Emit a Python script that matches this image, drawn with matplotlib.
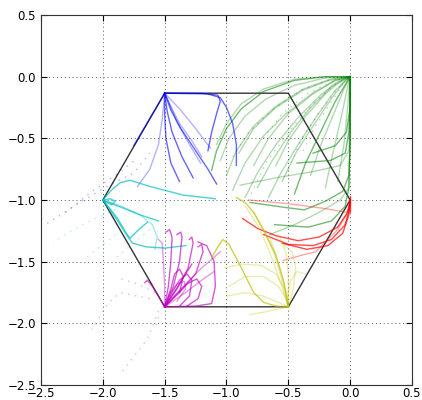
import matplotlib
matplotlib.use('Agg')
import matplotlib.pyplot as plt

# hexagon outline
hex_x = [0.0, -0.5, -1.5, -2.0, -1.5, -0.5, 0.0]
hex_y = [-1.0, -1.866, -1.866, -1.0, -0.134, -0.134, -1.0]

# trajectories (x, y)
green_dark = [
    [(-0.43, -0.70), (-0.16, -0.68), (-0.04, -0.62), (-0.01, -0.45), (0.0, -0.2), (0.0, 0.0)],
    [(-0.81, -1.02), (-0.53, -1.06), (-0.37, -1.08), (-0.2, -1.01), (-0.06, -0.93), (-0.01, -0.8), (0.0, -0.5), (0.0, 0.0)],
    [(-0.61, -1.20), (-0.34, -1.22), (-0.15, -1.17), (-0.04, -1.05), (-0.01, -0.9), (0.0, -0.5), (0.0, 0.0)],
    [(-1.12, -0.76), (-1.08, -0.6), (-1.0, -0.42), (-0.88, -0.26), (-0.7, -0.12), (-0.45, -0.03), (-0.2, 0.0), (0.0, 0.0)],
    [(-0.45, -0.95), (-0.36, -0.7), (-0.24, -0.45), (-0.12, -0.2), (0.0, 0.0)],
    [(-0.3, -0.62), (-0.12, -0.56), (-0.03, -0.45), (0.0, -0.25), (0.0, 0.0)],
]
green_light = [
    [(-1.05, -0.68), (-0.98, -0.5), (-0.85, -0.32), (-0.68, -0.18), (-0.45, -0.07), (-0.2, -0.01), (0.0, 0.0)],
    [(-1.0, -0.8), (-0.92, -0.6), (-0.78, -0.4), (-0.6, -0.24), (-0.38, -0.1), (-0.16, -0.02), (0.0, 0.0)],
    [(-0.95, -0.92), (-0.85, -0.7), (-0.7, -0.48), (-0.52, -0.3), (-0.3, -0.13), (-0.12, -0.03), (0.0, 0.0)],
    [(-0.85, -0.98), (-0.75, -0.78), (-0.6, -0.55), (-0.42, -0.33), (-0.24, -0.15), (-0.1, -0.04), (0.0, 0.0)],
    [(-0.75, -0.9), (-0.63, -0.68), (-0.48, -0.45), (-0.32, -0.25), (-0.15, -0.08), (0.0, 0.0)],
    [(-0.66, -0.98), (-0.56, -0.78), (-0.42, -0.55), (-0.27, -0.32), (-0.12, -0.11), (0.0, 0.0)],
    [(-0.55, -0.85), (-0.44, -0.62), (-0.3, -0.4), (-0.16, -0.19), (-0.05, -0.04), (0.0, 0.0)],
    [(-0.32, -0.8), (-0.24, -0.56), (-0.14, -0.32), (-0.05, -0.1), (0.0, 0.0)],
    [(-0.2, -0.9), (-0.14, -0.62), (-0.07, -0.32), (-0.02, -0.08), (0.0, 0.0)],
    [(-0.9, -0.62), (-0.78, -0.42), (-0.6, -0.25), (-0.38, -0.11), (-0.17, -0.03), (0.0, 0.0)],
    [(-1.08, -0.55), (-1.0, -0.38), (-0.88, -0.22), (-0.7, -0.1), (-0.45, -0.02), (-0.2, 0.0), (0.0, 0.0)],
    [(-0.89, -0.88), (-0.6, -0.82), (-0.3, -0.77), (-0.08, -0.72), (-0.01, -0.6), (0.0, -0.3), (0.0, 0.0)],
    [(-0.65, -1.28), (-0.45, -1.2), (-0.25, -1.1), (-0.08, -1.0), (-0.01, -0.9), (0.0, -0.5), (0.0, 0.0)],
    [(-0.6, -0.72), (-0.5, -0.52), (-0.36, -0.32), (-0.2, -0.14), (-0.07, -0.03), (0.0, 0.0)],
    [(-0.78, -0.72), (-0.66, -0.5), (-0.5, -0.3), (-0.3, -0.14), (-0.12, -0.03), (0.0, 0.0)],
    [(-0.1, -0.85), (-0.05, -0.55), (-0.02, -0.25), (0.0, 0.0)],
]
green_dotted = [
    [(-0.8, -0.95), (-0.68, -0.7), (-0.5, -0.45), (-0.3, -0.22), (-0.12, -0.06), (0.0, 0.0)],
    [(-0.95, -0.65), (-0.82, -0.45), (-0.62, -0.26), (-0.38, -0.1), (-0.15, -0.02), (0.0, 0.0)],
    [(-0.5, -0.75), (-0.4, -0.52), (-0.26, -0.3), (-0.12, -0.12), (0.0, 0.0)],
    [(-0.7, -0.5), (-0.55, -0.3), (-0.35, -0.14), (-0.15, -0.04), (0.0, 0.0)],
    [(-0.38, -0.6), (-0.28, -0.4), (-0.15, -0.2), (-0.05, -0.05), (0.0, 0.0)],
]

red_dark = [
    [(-0.87, -1.15), (-0.75, -1.23), (-0.6, -1.29), (-0.42, -1.33), (-0.25, -1.3), (-0.1, -1.22), (-0.02, -1.1), (0.0, -1.0)],
    [(-0.7, -1.28), (-0.5, -1.36), (-0.3, -1.37), (-0.15, -1.32), (-0.04, -1.2), (0.0, -1.05), (0.0, -1.0)],
    [(-0.55, -1.35), (-0.35, -1.4), (-0.18, -1.37), (-0.06, -1.27), (-0.01, -1.12), (0.0, -1.0)],
    [(0.0, -1.1), (0.0, -0.97)],
]
red_light = [
    [(-0.82, -1.0), (-0.5, -1.03), (-0.2, -1.07), (-0.03, -1.1), (0.0, -1.05), (0.0, -1.0)],
    [(-0.54, -1.49), (-0.4, -1.45), (-0.28, -1.42), (-0.1, -1.24), (-0.02, -1.1), (0.0, -1.0)],
]

blue_dark = [
    [(-1.15, -0.6), (-1.12, -0.45), (-1.08, -0.3), (-1.05, -0.2), (-1.07, -0.15), (-1.2, -0.135), (-1.5, -0.134)],
    [(-0.92, -0.72), (-0.92, -0.55), (-0.95, -0.38), (-1.0, -0.25), (-1.05, -0.17), (-1.15, -0.14), (-1.5, -0.134)],
    [(-1.08, -0.87), (-1.15, -0.75), (-1.25, -0.6), (-1.37, -0.42), (-1.45, -0.27), (-1.5, -0.134)],
    [(-1.38, -0.85), (-1.45, -0.7), (-1.49, -0.5), (-1.5, -0.3), (-1.5, -0.134)],
    [(-1.27, -0.82), (-1.36, -0.65), (-1.44, -0.45), (-1.48, -0.28), (-1.5, -0.134)],
    [(-1.75, -0.56), (-1.65, -0.39), (-1.55, -0.22), (-1.5, -0.134)],
]
blue_light = [
    [(-1.2, -0.65), (-1.28, -0.52), (-1.38, -0.38), (-1.46, -0.22), (-1.5, -0.134)],
    [(-1.72, -0.89), (-1.62, -0.75), (-1.55, -0.55), (-1.52, -0.35), (-1.5, -0.134)],
    [(-1.21, -0.7), (-1.3, -0.55), (-1.4, -0.37), (-1.47, -0.2), (-1.5, -0.134)],
    [(-1.13, -0.58), (-1.25, -0.42), (-1.38, -0.26), (-1.5, -0.134)],
]
blue_dotted = [
    [(-2.45, -1.19), (-2.2, -1.03), (-1.95, -0.88), (-1.75, -0.78), (-1.62, -0.62)],
    [(-2.3, -1.1), (-2.1, -0.94), (-1.9, -0.8), (-1.72, -0.66)],
]

cyan_dark = [
    [(-1.09, -0.99), (-1.35, -0.96), (-1.62, -0.89), (-1.78, -0.84), (-1.86, -0.86), (-1.93, -0.92), (-2.0, -1.0)],
    [(-2.0, -1.0), (-1.94, -0.99), (-1.9, -1.01), (-1.93, -1.04), (-2.0, -1.0)],
    [(-2.0, -1.0), (-1.95, -1.06), (-1.88, -1.15), (-1.81, -1.27), (-1.78, -1.31), (-1.72, -1.25), (-1.64, -1.18)],
    [(-2.0, -1.0), (-1.95, -1.07), (-1.88, -1.17), (-1.81, -1.28), (-1.76, -1.35), (-1.65, -1.38), (-1.5, -1.39), (-1.33, -1.37)],
    [(-2.0, -1.0), (-1.85, -1.06), (-1.7, -1.12), (-1.55, -1.17)],
]
cyan_light = [
    [(-1.58, -1.4), (-1.56, -1.3), (-1.6, -1.2), (-1.7, -1.12), (-1.85, -1.05), (-2.0, -1.0)],
]
cyan_dotted = [
    [(-1.9, -1.08), (-2.08, -1.16), (-2.24, -1.24), (-2.4, -1.34)],
    [(-1.85, -1.25), (-2.05, -1.4), (-2.16, -1.49)],
    [(-1.62, -1.24), (-1.75, -1.35), (-1.92, -1.49)],
]

magenta_dark = [
    [(-1.5, -1.866), (-1.47, -1.7), (-1.45, -1.5), (-1.44, -1.3), (-1.46, -1.24), (-1.49, -1.26)],
    [(-1.5, -1.866), (-1.43, -1.7), (-1.38, -1.5), (-1.36, -1.3), (-1.37, -1.26), (-1.4, -1.28)],
    [(-1.5, -1.866), (-1.4, -1.72), (-1.31, -1.55), (-1.27, -1.35), (-1.28, -1.3), (-1.3, -1.32)],
    [(-1.5, -1.866), (-1.38, -1.75), (-1.25, -1.6), (-1.19, -1.42), (-1.2, -1.36), (-1.23, -1.38)],
    [(-1.23, -1.34), (-1.16, -1.37), (-1.1, -1.5), (-1.09, -1.7), (-1.12, -1.84), (-1.25, -1.86), (-1.5, -1.866)],
    [(-1.5, -1.866), (-1.44, -1.75), (-1.38, -1.65), (-1.32, -1.6), (-1.28, -1.65), (-1.3, -1.78), (-1.38, -1.86)],
    [(-1.5, -1.866), (-1.42, -1.78), (-1.32, -1.68), (-1.24, -1.64), (-1.2, -1.7), (-1.23, -1.8), (-1.32, -1.86)],
    [(-1.5, -1.866), (-1.45, -1.72), (-1.42, -1.6), (-1.38, -1.56), (-1.35, -1.62), (-1.38, -1.75)],
    [(-1.5, -1.866), (-1.55, -1.78), (-1.6, -1.7), (-1.64, -1.65), (-1.66, -1.67)],
    [(-1.5, -1.866), (-1.38, -1.68), (-1.28, -1.52)],
]
magenta_light = [
    [(-1.5, -1.866), (-1.35, -1.7), (-1.2, -1.55), (-1.05, -1.42)],
    [(-1.5, -1.866), (-1.33, -1.75), (-1.2, -1.65), (-1.1, -1.58)],
    [(-1.5, -1.866), (-1.5, -1.7), (-1.51, -1.5), (-1.52, -1.35), (-1.55, -1.32)],
    [(-1.5, -1.866), (-1.46, -1.76), (-1.4, -1.68), (-1.34, -1.66), (-1.33, -1.72), (-1.4, -1.82)],
]
magenta_dotted = [
    [(-1.55, -1.9), (-1.64, -2.13), (-1.72, -2.23), (-1.85, -2.4)],
    [(-1.62, -1.8), (-1.86, -1.75), (-1.96, -1.84), (-2.09, -2.05)],
    [(-1.58, -1.75), (-1.72, -1.68), (-1.85, -1.64)],
    [(-1.55, -1.95), (-1.58, -2.05)],
]

yellow_dark = [
    [(-1.12, -1.47), (-1.07, -1.38), (-1.03, -1.32), (-0.98, -1.36), (-0.88, -1.55), (-0.78, -1.75), (-0.7, -1.83), (-0.6, -1.86), (-0.5, -1.866)],
    [(-0.92, -0.98), (-0.85, -1.02), (-0.78, -1.1), (-0.68, -1.28), (-0.6, -1.45), (-0.54, -1.65), (-0.51, -1.8), (-0.5, -1.866)],
]
yellow_light = [
    [(-0.78, -1.1), (-0.7, -1.25), (-0.62, -1.42), (-0.56, -1.62), (-0.52, -1.78), (-0.5, -1.866)],
    [(-0.65, -1.3), (-0.6, -1.45), (-0.55, -1.62), (-0.51, -1.78), (-0.5, -1.866)],
    [(-0.58, -1.28), (-0.52, -1.42), (-0.5, -1.6), (-0.5, -1.78), (-0.5, -1.866)],
    [(-0.55, -1.35), (-0.47, -1.42), (-0.44, -1.55), (-0.46, -1.72), (-0.5, -1.866)],
    [(-1.01, -1.55), (-0.88, -1.52), (-0.72, -1.53), (-0.6, -1.6), (-0.53, -1.72), (-0.5, -1.866)],
    [(-0.98, -1.7), (-0.85, -1.62), (-0.7, -1.62), (-0.58, -1.7), (-0.52, -1.8), (-0.5, -1.866)],
    [(-1.0, -1.78), (-0.85, -1.75), (-0.7, -1.78), (-0.58, -1.83), (-0.5, -1.866)],
    [(-0.81, -1.93), (-0.65, -1.9), (-0.5, -1.866)],
    [(-0.36, -1.6), (-0.43, -1.58), (-0.48, -1.65), (-0.5, -1.75), (-0.5, -1.866)],
    [(-0.85, -1.05), (-0.75, -1.2), (-0.66, -1.4), (-0.58, -1.62), (-0.52, -1.8), (-0.5, -1.866)],
]

dots = (0, (1, 4))
groups = [
    (green_light, 'g', 0.3, '-'), (green_dotted, 'g', 0.3, dots), (green_dark, 'g', 0.55, '-'),
    (red_light, 'r', 0.35, '-'), (red_dark, 'r', 0.7, '-'),
    (blue_light, 'b', 0.3, '-'), (blue_dotted, 'b', 0.3, dots), (blue_dark, 'b', 0.6, '-'),
    (cyan_light, 'c', 0.35, '-'), (cyan_dotted, 'c', 0.3, dots), (cyan_dark, 'c', 0.7, '-'),
    (magenta_light, 'm', 0.4, '-'), (magenta_dotted, 'm', 0.3, dots), (magenta_dark, 'm', 0.65, '-'),
    (yellow_light, 'y', 0.3, '-'), (yellow_dark, 'y', 0.7, '-'),
]

fig = plt.figure(figsize=(4.22, 4.0), dpi=100)
ax = fig.add_axes([0.0972, 0.0375, 0.879, 0.925])

ax.plot(hex_x, hex_y, color='k', lw=1.0, alpha=0.8)

for curves, col, a, ls in groups:
    for c in curves:
        xs = [p[0] for p in c]
        ys = [p[1] for p in c]
        ax.plot(xs, ys, color=col, alpha=a, lw=1.0, ls=ls)

ax.set_xlim(-2.5, 0.5)
ax.set_ylim(-2.5, 0.5)
ax.set_xticks([-2.5, -2.0, -1.5, -1.0, -0.5, 0.0, 0.5])
ax.set_yticks([-2.5, -2.0, -1.5, -1.0, -0.5, 0.0, 0.5])
ax.grid(True, color='0.35', ls=(0, (1, 3)), lw=0.7)
ax.tick_params(direction='in', top=True, right=True, labelsize=8.5, length=4)
ax.tick_params(axis='x', pad=1.5)
for s in ax.spines.values():
    s.set_color('#333333')

fig.savefig('out.png', dpi=100, facecolor='white')
